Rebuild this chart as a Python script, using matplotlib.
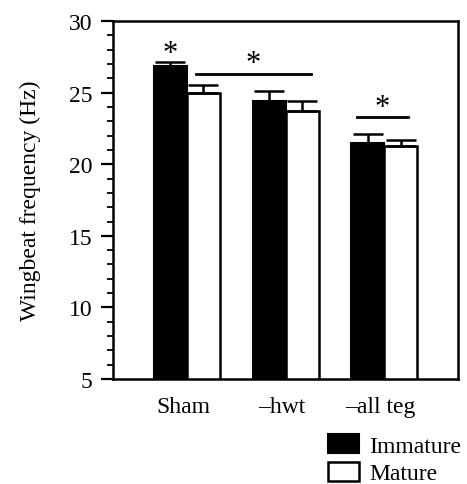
import numpy as np
import matplotlib.pyplot as plt
from matplotlib.patches import Patch
from matplotlib.ticker import MultipleLocator

plt.rcParams['font.family'] = ['Liberation Serif', 'DejaVu Serif']

# Data
groups = ['Sham', '\u2013hwt', '\u2013all teg']
immature = [26.85, 24.45, 21.5]
immature_err = [0.3, 0.65, 0.6]
mature = [24.95, 23.75, 21.25]
mature_err = [0.55, 0.7, 0.45]

fig = plt.figure(figsize=(4.67, 4.85), dpi=100)
ax = fig.add_axes([0.242, 0.2165, 0.739, 0.738])

x = np.arange(len(groups))
w = 0.335
ekw = dict(elinewidth=1.8, capthick=1.8)
ax.bar(x - w / 2, immature, w, bottom=0, color='black', edgecolor='black',
       linewidth=1.5, yerr=[np.zeros(3), immature_err], capsize=10.5,
       error_kw=ekw, label='Immature', zorder=2)
ax.bar(x + w / 2, mature, w, bottom=0, color='white', edgecolor='black',
       linewidth=1.8, yerr=[np.zeros(3), mature_err], capsize=10.5,
       error_kw=ekw, label='Mature', zorder=2)

# significance markers
ax.plot([0.09, 1.26], [26.3, 26.3], color='black', lw=2)
ax.text(0.67, 26.0, '*', ha='center', va='bottom', fontsize=22)
ax.text(-w / 2, 26.7, '*', ha='center', va='bottom', fontsize=22)
ax.plot([1.72, 2.24], [23.27, 23.27], color='black', lw=2)
ax.text(1.98, 22.95, '*', ha='center', va='bottom', fontsize=22)

ax.set_xlim(-0.75, 2.75)
ax.set_ylim(5, 30)
ax.yaxis.set_major_locator(MultipleLocator(5))
ax.yaxis.set_minor_locator(MultipleLocator(1))
ax.set_xticks(x - 0.04)
ax.set_xticklabels(groups, fontsize=17)
ax.tick_params(axis='x', length=0, pad=12)
ax.tick_params(axis='y', which='major', length=9, width=1.6, labelsize=17, pad=6)
ax.tick_params(axis='y', which='minor', length=4, width=1.3)
for s in ax.spines.values():
    s.set_linewidth(1.8)

ax.set_ylabel('Wingbeat frequency (Hz)', fontsize=17)
ax.yaxis.set_label_coords(-0.21, 0.5)

handles = [Patch(facecolor='black', edgecolor='black', lw=1.5),
           Patch(facecolor='white', edgecolor='black', lw=1.8)]
fig.legend(handles, ['Immature', 'Mature'], loc='upper left',
           bbox_to_anchor=(0.703, 0.103), frameon=False, fontsize=17,
           borderpad=0, borderaxespad=0, handlelength=1.31, handleheight=0.85,
           handletextpad=0.42, labelspacing=0.22)

fig.savefig('out.png', dpi=100)
